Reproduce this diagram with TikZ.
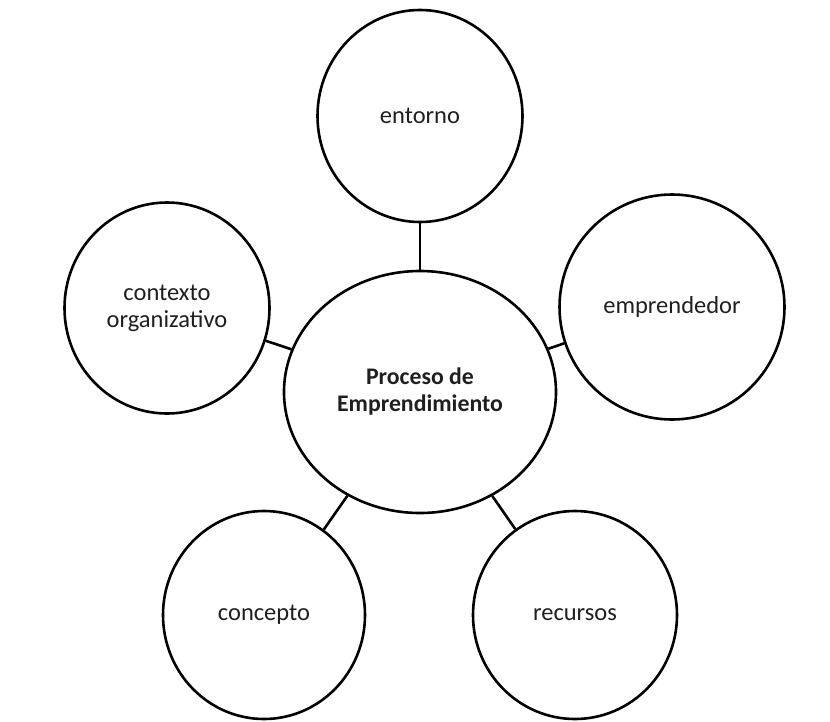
\documentclass[tikz,border=0pt]{standalone}
\usepackage{fontspec}
\setmainfont{Carlito}
\usetikzlibrary{shapes.geometric}
\begin{document}
\begin{tikzpicture}[x=1pt,y=-1pt,
  bubble/.style={draw=black, line width=2.6pt, ellipse, inner sep=0pt,
    align=center, font=\fontsize{24.5}{27}\selectfont, text=black!88},
  link/.style={draw=black, line width=2.6pt}]
  \useasboundingbox (0,0) rectangle (830,721);
  % centre and surrounding bubbles
  \node[bubble, minimum width=272pt, minimum height=242pt,
        font=\bfseries\fontsize{23.8}{27}\selectfont] (proc) at (420,392)
        {Proceso de\\Emprendimiento};
  \node[bubble, minimum width=205pt, minimum height=212pt] (ent) at (420,116) {entorno};
  \node[bubble, minimum width=205pt, minimum height=211pt] (ctx) at (167,308) {contexto\\organizativo};
  \node[bubble, minimum width=225pt, minimum height=225pt] (emp) at (672,307) {emprendedor};
  \node[bubble, minimum width=202pt, minimum height=208pt] (con) at (264,615) {concepto};
  \node[bubble, minimum width=204pt, minimum height=208pt] (rec) at (575,615) {recursos};
  % spokes
  \draw[link] (proc) -- (ent);
  \draw[link] (proc) -- (ctx);
  \draw[link] (proc) -- (emp);
  \draw[link] (proc) -- (con);
  \draw[link] (proc) -- (rec);
\end{tikzpicture}
\end{document}
